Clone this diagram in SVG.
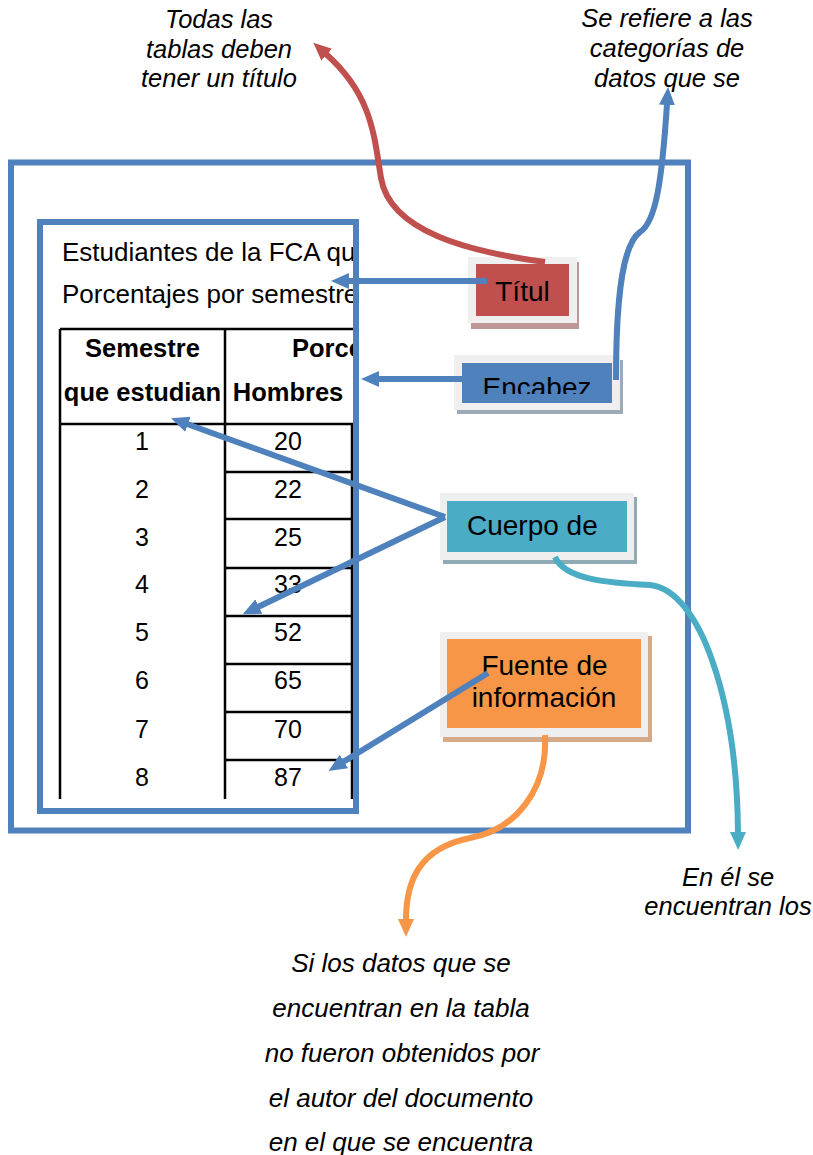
<svg xmlns="http://www.w3.org/2000/svg" width="813" height="1155" viewBox="0 0 813 1155">
<style>
.frame{fill:none;stroke:#4F81BD;stroke-width:6}
.grid{stroke:#000;stroke-width:2.5;fill:none}
.t{font-family:"Liberation Sans",Arial,sans-serif;font-size:25px;fill:#000}
.h{font-size:26px}
.b{font-weight:bold;font-size:25.5px}
.c{text-anchor:middle}
.it{font-family:"Liberation Sans",Arial,sans-serif;font-style:italic;font-size:25.5px;fill:#000;text-anchor:middle}
.it2{font-size:26px}
.lbl{font-family:"Liberation Sans",Arial,sans-serif;font-size:28px;fill:#000}
.pad{fill:#EFEFEF}
.con{fill:none;stroke-width:6}
</style>
<defs>
<clipPath id="tclip"><rect x="43" y="225" width="310" height="583"/></clipPath>
<clipPath id="eclip"><rect x="462" y="363" width="150" height="31"/></clipPath>
<marker id="ab" markerUnits="userSpaceOnUse" markerWidth="20" markerHeight="18" refX="1" refY="8" orient="auto"><path d="M0,0 L18,8 L0,16 z" fill="#4F81BD"/></marker>
<marker id="ar" markerUnits="userSpaceOnUse" markerWidth="20" markerHeight="18" refX="1" refY="8" orient="auto"><path d="M0,0 L18,8 L0,16 z" fill="#C0504D"/></marker>
<marker id="at" markerUnits="userSpaceOnUse" markerWidth="20" markerHeight="18" refX="1" refY="8" orient="auto"><path d="M0,0 L18,8 L0,16 z" fill="#4BACC6"/></marker>
<marker id="ao" markerUnits="userSpaceOnUse" markerWidth="20" markerHeight="18" refX="1" refY="8" orient="auto"><path d="M0,0 L18,8 L0,16 z" fill="#F79646"/></marker>
</defs>
<rect width="813" height="1155" fill="#fff"/>

<g id="outer-box"><rect class="frame" x="11" y="162.5" width="677" height="668"/></g>

<g id="table">
<g clip-path="url(#tclip)">
<text class="t h" x="62" y="261">Estudiantes de la FCA que</text>
<text class="t h" x="62" y="303">Porcentajes por semestre</text>
<text class="t b" x="292" y="357">Porce</text>
</g>
<path class="grid" d="M60,329 H358 M60,424 H358 M60,329 V799 M225,329 V799 M352,424 V799 M225,472 H358 M225,519 H358 M225,568 H358 M225,616 H358 M225,664 H358 M225,712 H358 M225,760 H358"/>
<text class="t b c" x="142.5" y="357">Semestre</text>
<text class="t b c" x="142.5" y="401">que estudian</text>
<text class="t b c" x="288" y="401">Hombres</text>
<g class="t c">
<text x="142" y="450">1</text><text x="288" y="450">20</text>
<text x="142" y="498">2</text><text x="288" y="498">22</text>
<text x="142" y="546">3</text><text x="288" y="546">25</text>
<text x="142" y="593">4</text><text x="288" y="593">33</text>
<text x="142" y="641">5</text><text x="288" y="641">52</text>
<text x="142" y="689">6</text><text x="288" y="689">65</text>
<text x="142" y="738">7</text><text x="288" y="738">70</text>
<text x="142" y="786">8</text><text x="288" y="786">87</text>
</g>
<rect class="frame" x="40" y="222" width="316" height="589"/>
</g>

<g id="node-titulo">
<rect x="471" y="262" width="108" height="67" fill="#BF9696"/>
<rect class="pad" x="468" y="257" width="109" height="66"/>
<rect x="476" y="264" width="93" height="52" fill="#C0504D"/>
<text class="lbl c" x="522.5" y="301">Títul</text>
</g>

<g id="node-encabezado">
<rect x="457" y="360" width="166" height="54" fill="#9EAAB8"/>
<rect class="pad" x="454" y="355" width="166" height="55"/>
<rect x="462" y="363" width="150" height="40" fill="#4F81BD"/>
<text class="lbl c" x="537" y="397" clip-path="url(#eclip)">Encabez</text>
</g>

<g id="node-cuerpo">
<rect x="443" y="497" width="194" height="67" fill="#8FAAB2"/>
<rect class="pad" x="440" y="493" width="194" height="67"/>
<rect x="447" y="501" width="180" height="51" fill="#4BACC6"/>
<text class="lbl" x="467" y="535">Cuerpo de</text>
</g>

<g id="node-fuente">
<rect x="443" y="636" width="209" height="106" fill="#D5AA88"/>
<rect class="pad" x="440" y="632" width="208" height="105"/>
<rect x="447" y="639" width="194" height="89" fill="#F79646"/>
<text class="lbl c" x="544.5" y="675">Fuente de</text>
<text class="lbl c" x="544" y="707">información</text>
</g>

<g id="note-titulo">
<text class="it" x="219" y="28">Todas las</text>
<text class="it" x="219" y="58">tablas deben</text>
<text class="it" x="219" y="87">tener un título</text>
</g>
<g id="note-encabezado">
<text class="it" x="667" y="27">Se refiere a las</text>
<text class="it" x="667" y="57">categorías de</text>
<text class="it" x="667" y="87">datos que se</text>
</g>
<g id="note-cuerpo">
<text class="it" x="728" y="886">En él se</text>
<text class="it" x="728" y="915">encuentran los</text>
</g>
<g id="note-fuente">
<text class="it it2" x="401" y="972">Si los datos que se</text>
<text class="it it2" x="401" y="1017">encuentran en la tabla</text>
<text class="it it2" x="402" y="1062">no fueron obtenidos por</text>
<text class="it it2" x="401" y="1107">el autor del documento</text>
<text class="it it2" x="401" y="1151">en el que se encuentra</text>
</g>

<g id="connectors">
<path class="con" stroke="#4F81BD" d="M487,281 L348,281" marker-end="url(#ab)"/>
<path class="con" stroke="#4F81BD" d="M462,379 L378,379" marker-end="url(#ab)"/>
<path class="con" stroke="#4F81BD" d="M445,517 L187,424" marker-end="url(#ab)"/>
<path class="con" stroke="#4F81BD" d="M445,517 L258,607" marker-end="url(#ab)"/>
<path class="con" stroke="#4F81BD" d="M488,673 L343,762" marker-end="url(#ab)"/>
<path class="con" stroke="#C0504D" d="M545,262 C470,252 390,232 381,178 C374,135 372,95 326,54" marker-end="url(#ar)"/>
<path class="con" stroke="#4F81BD" d="M616,380 C616,300 622,245 640,232 C656,222 662,180 667,104" marker-end="url(#ab)"/>
<path class="con" stroke="#4BACC6" d="M555,557 C565,580 610,583 650,585 C700,590 737,700 738,833" marker-end="url(#at)"/>
<path class="con" stroke="#F79646" d="M545,735 C548,790 515,830 470,838 C420,848 406,880 406,920" marker-end="url(#ao)"/>
</g>
</svg>
